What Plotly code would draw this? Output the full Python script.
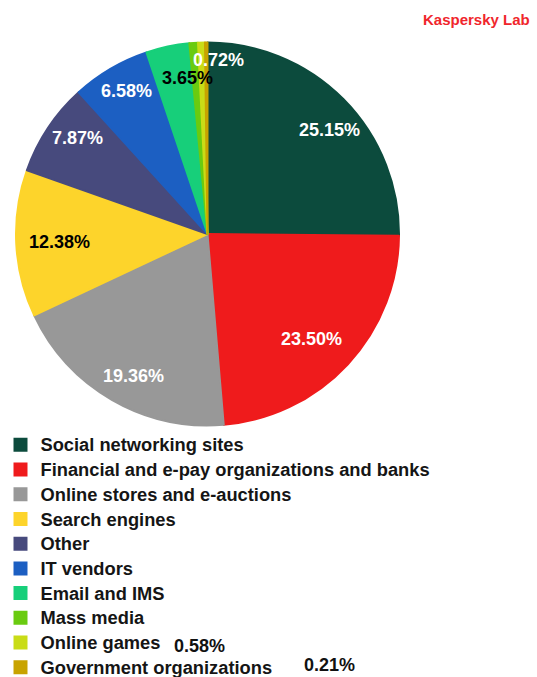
import plotly.graph_objects as go

# Share of phishing attacks by targeted organization type (%)
categories = [
    "Social networking sites",
    "Financial and e-pay organizations and banks",
    "Online stores and e-auctions",
    "Search engines",
    "Other",
    "IT vendors",
    "Email and IMS",
    "Mass media",
    "Online games",
    "Government organizations",
]
shares = [25.15, 23.50, 19.36, 12.38, 7.87, 6.58, 3.65, 0.72, 0.58, 0.21]

colors = ["#0c4b3d", "#ef1b1c", "#989898", "#fdd42b", "#474a7d",
          "#1c5fc2", "#17cf7a", "#6acb10", "#c9dc17", "#c8a300"]

W, H = 537, 677
CX, CY, R = 207.5, 234.0, 191.5  # pie centre and radius in pixels
FONT = "Liberation Sans, Arial, sans-serif"

# where each value label sits (pixel centre) and its colour
label_style = [
    ((329.5, 130.0), "white"),
    ((311.5, 338.5), "white"),
    ((133.5, 375.5), "white"),
    ((60.0, 242.0), "black"),
    ((77.5, 138.0), "white"),
    ((126.0, 90.5), "white"),
    ((187.0, 78.0), "black"),
    ((218.5, 60.0), "white"),
    ((199.0, 645.5), "#111111"),
    ((329.0, 664.5), "#111111"),
]

# legend entries are drawn a little larger than the row pitch font size
legend_names = [f'<span style="font-size:18.3px">{c}</span>' for c in categories]

fig = go.Figure(go.Pie(
    labels=legend_names,
    values=shares,
    sort=False,
    direction="clockwise",
    rotation=0,
    marker=dict(colors=colors, line=dict(color=colors, width=2)),
    textinfo="none",
    hovertext=categories,
    hoverinfo="text+percent",
    domain=dict(x=[(CX - R) / W, (CX + R) / W],
                y=[1 - (CY + R) / H, 1 - (CY - R) / H]),
))

annotations = []
for v, ((px, py), c) in zip(shares, label_style):
    annotations.append(dict(
        x=px / W, y=1 - py / H, xref="paper", yref="paper",
        xanchor="center", yanchor="middle", borderpad=0,
        text=f"{v:.2f}%", showarrow=False,
        font=dict(family=FONT, size=18, color=c, weight="bold"),
    ))

annotations.append(dict(
    x=476 / W, y=1 - 19.5 / H, xref="paper", yref="paper",
    xanchor="center", yanchor="middle",
    text="Kaspersky Lab", showarrow=False,
    font=dict(family=FONT, size=15, color="#f0262c", weight="bold"),
))

fig.update_layout(
    width=W, height=H,
    margin=dict(l=0, r=0, t=0, b=0, autoexpand=False),
    paper_bgcolor="white",
    plot_bgcolor="white",
    showlegend=True,
    legend=dict(
        x=0.5 / W, y=1 - 427.5 / H, xanchor="left", yanchor="top",
        font=dict(family=FONT, size=16.7, color="#151515", weight="bold"),
        traceorder="normal",
        bgcolor="rgba(0,0,0,0)",
    ),
    annotations=annotations,
)

fig.write_html("out.html")
